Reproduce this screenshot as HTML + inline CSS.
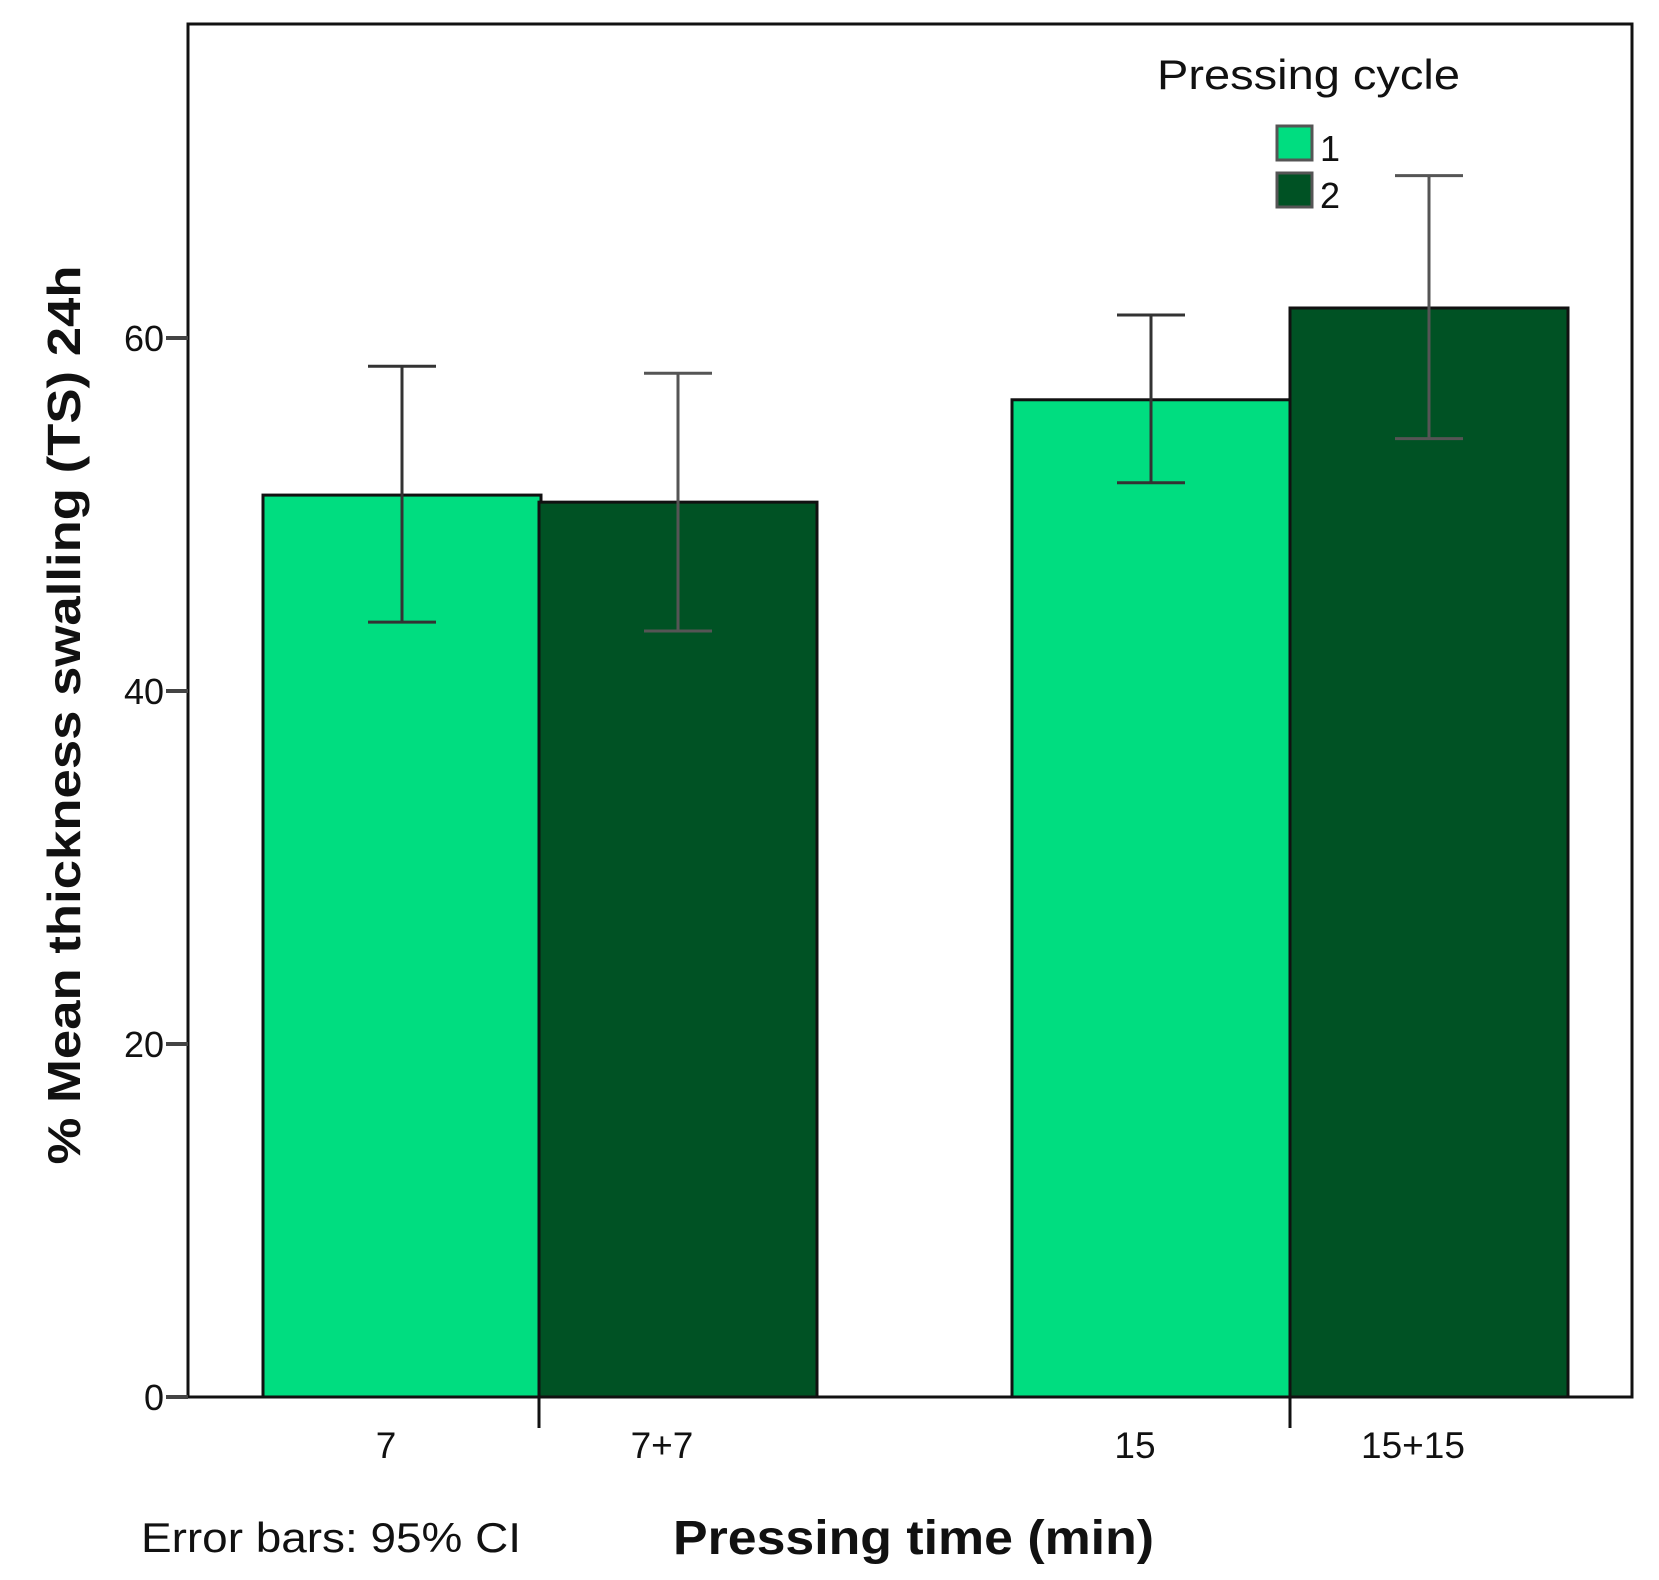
<!DOCTYPE html>
<html><head><meta charset="utf-8"><style>
html,body{margin:0;padding:0;background:#fff;}
svg{display:block;font-family:"Liberation Sans",Arial,sans-serif;}
</style></head><body>
<svg id="chart" width="1659" height="1580" viewBox="0 0 1659 1580">
<rect x="0" y="0" width="1659" height="1580" fill="#fff"/>
<g id="bars"></g>
<g id="errs"></g>
<rect x="188" y="24" width="1444" height="1373" fill="none" stroke="#111" stroke-width="3"/>
<g id="axes"></g>
<text x="1157" y="89" font-size="42" textLength="303" lengthAdjust="spacingAndGlyphs" fill="#111">Pressing cycle</text>
<g>
<rect x="1277" y="126" width="35" height="34" fill="#00dd80" stroke="#555" stroke-width="3"/>
<text x="1320" y="161" font-size="36" fill="#111">1</text></g>
<g>
<rect x="1277" y="173" width="35" height="34" fill="#005224" stroke="#555" stroke-width="3"/>
<text x="1320" y="208" font-size="36" fill="#111">2</text></g>
<text transform="translate(80,715) rotate(-90)" font-size="46" font-weight="bold" text-anchor="middle" textLength="899" lengthAdjust="spacingAndGlyphs" fill="#111">% Mean thickness swalling (TS) 24h</text>
<text x="673" y="1554" font-size="48" font-weight="bold" textLength="481" lengthAdjust="spacingAndGlyphs" fill="#111">Pressing time (min)</text>
<text x="141" y="1552" font-size="42" textLength="380" lengthAdjust="spacingAndGlyphs" fill="#111">Error bars: 95% CI</text>
</svg>
<script>
const categories = ["7", "7+7", "15", "15+15"];
const series = ["1", "2", "1", "2"];
const means = [51.1, 50.7, 56.5, 61.7];
const ciLow = [43.9, 43.4, 51.8, 54.3];
const ciHigh = [58.4, 58.0, 61.3, 69.2];
const yTicks = [0, 20, 40, 60];

const NS = "http://www.w3.org/2000/svg";
function y(v){ return 1397 - v * (1397 - 338) / 60; }
const barLeft = [263, 539, 1012, 1290];
function xl(i){ return barLeft[i]; }
const bw = 278;
function mk(tag, attrs, parent){ const e=document.createElementNS(NS,tag); for(const k in attrs) e.setAttribute(k,attrs[k]); document.getElementById(parent).appendChild(e); return e; }

means.forEach((m,i)=>{
  const r = mk("rect",{x:xl(i),y:y(m),width:bw,height:y(0)-y(m),fill:series[i]==="1"?"#00dd80":"#005224",stroke:"#111","stroke-width":3},"bars");
  
  
  const cx = xl(i) + bw/2;
  const g = mk("g",{stroke:i%2===0?"#333":"#555","stroke-width":3},"errs");
  
  
  [[cx,y(ciLow[i]),cx,y(ciHigh[i])],[cx-34,y(ciLow[i]),cx+34,y(ciLow[i])],[cx-34,y(ciHigh[i]),cx+34,y(ciHigh[i])]].forEach(c=>{
    const l=document.createElementNS(NS,"line");
    l.setAttribute("x1",c[0]);l.setAttribute("y1",c[1]);l.setAttribute("x2",c[2]);l.setAttribute("y2",c[3]);
    g.appendChild(l);
  });
  const t = mk("text",{x:cx-16,y:1458,"font-size":37,"text-anchor":"middle",fill:"#111"},"axes");
  t.textContent = categories[i];
  
  
});
yTicks.forEach(v=>{
  const l = mk("line",{x1:166,x2:188,y1:y(v),y2:y(v),stroke:"#444","stroke-width":4},"axes");
  
  
  const t = mk("text",{x:164,y:y(v)+13,"font-size":36,"text-anchor":"end",fill:"#111"},"axes");
  t.textContent = v;
  
  
});
[1,3].forEach(i=>{
  const l = mk("line",{x1:xl(i),x2:xl(i),y1:y(0),y2:1428,stroke:"#111","stroke-width":3},"axes");
  
  
});
</script>
</body></html>
